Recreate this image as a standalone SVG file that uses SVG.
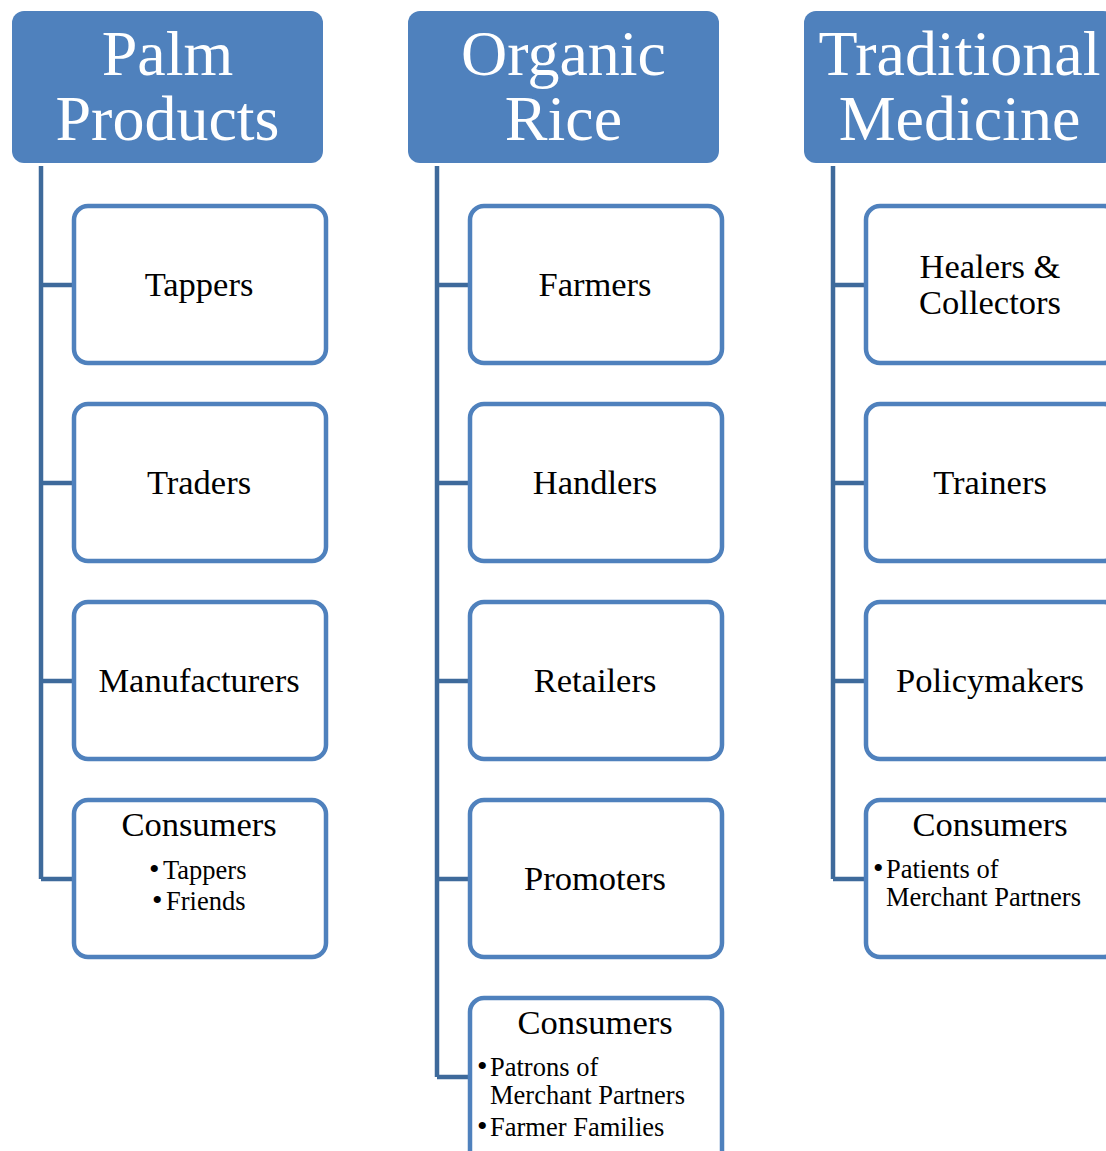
<svg xmlns="http://www.w3.org/2000/svg" width="1106" height="1151" viewBox="0 0 1106 1151">
<style>
.hdr{fill:#4F81BD}
.hdrt{font-family:"Liberation Serif","Times New Roman",serif;font-size:64px;fill:#fff;text-anchor:middle}
.box{fill:#fff;stroke:#4F81BD;stroke-width:4.5}
.t{font-family:"Liberation Serif","Times New Roman",serif;font-size:34.5px;fill:#000;text-anchor:middle}
.s{font-family:"Liberation Serif","Times New Roman",serif;font-size:26.5px;fill:#000}
.b{font-size:30px}
.c{fill:none;stroke:#3E6A9B;stroke-width:4.5}
</style>
<g id="connectors">
<path class="c" d="M41,166 V879 M41,285 H74 M41,483 H74 M41,681 H74 M41,879 H74"/>
<path class="c" d="M437,166 V1077 M437,285 H470 M437,483 H470 M437,681 H470 M437,879 H470 M437,1077 H470"/>
<path class="c" d="M833,166 V879 M833,285 H866 M833,483 H866 M833,681 H866 M833,879 H866"/>
</g>
<g id="h1"><rect class="hdr" x="12" y="11" width="311" height="152" rx="12"/><text class="hdrt" x="167.5" y="75">Palm</text><text class="hdrt" x="167.5" y="140">Products</text></g>
<g id="h2"><rect class="hdr" x="408" y="11" width="311" height="152" rx="12"/><text class="hdrt" x="563.5" y="75">Organic</text><text class="hdrt" x="563.5" y="140">Rice</text></g>
<g id="h3"><rect class="hdr" x="804" y="11" width="311" height="152" rx="12"/><text class="hdrt" x="959.5" y="75">Traditional</text><text class="hdrt" x="959.5" y="140">Medicine</text></g>

<g id="tappers"><rect class="box" x="74" y="206" width="252" height="157" rx="14"/><text class="t" x="199" y="296">Tappers</text></g>
<g id="traders"><rect class="box" x="74" y="404" width="252" height="157" rx="14"/><text class="t" x="199" y="494">Traders</text></g>
<g id="manufacturers"><rect class="box" x="74" y="602" width="252" height="157" rx="14"/><text class="t" x="199" y="692">Manufacturers</text></g>
<g id="consumers1"><rect class="box" x="74" y="800" width="252" height="157" rx="14"/><text class="t" x="199" y="836">Consumers</text><text class="s" x="149" y="879"><tspan class="b">•</tspan><tspan x="163">Tappers</tspan></text><text class="s" x="152" y="910"><tspan class="b">•</tspan><tspan x="166">Friends</tspan></text></g>

<g id="farmers"><rect class="box" x="470" y="206" width="252" height="157" rx="14"/><text class="t" x="595" y="296">Farmers</text></g>
<g id="handlers"><rect class="box" x="470" y="404" width="252" height="157" rx="14"/><text class="t" x="595" y="494">Handlers</text></g>
<g id="retailers"><rect class="box" x="470" y="602" width="252" height="157" rx="14"/><text class="t" x="595" y="692">Retailers</text></g>
<g id="promoters"><rect class="box" x="470" y="800" width="252" height="157" rx="14"/><text class="t" x="595" y="890">Promoters</text></g>
<g id="consumers2"><rect class="box" x="470" y="998" width="252" height="180" rx="14"/><text class="t" x="595" y="1034">Consumers</text><text class="s" x="477" y="1076"><tspan class="b">•</tspan><tspan x="490">Patrons of</tspan></text><text class="s" x="490" y="1104">Merchant Partners</text><text class="s" x="477" y="1136"><tspan class="b">•</tspan><tspan x="490">Farmer Families</tspan></text></g>

<g id="healers"><rect class="box" x="866" y="206" width="252" height="157" rx="14"/><text class="t" x="990" y="278">Healers &amp;</text><text class="t" x="990" y="314">Collectors</text></g>
<g id="trainers"><rect class="box" x="866" y="404" width="252" height="157" rx="14"/><text class="t" x="990" y="494">Trainers</text></g>
<g id="policymakers"><rect class="box" x="866" y="602" width="252" height="157" rx="14"/><text class="t" x="990" y="692">Policymakers</text></g>
<g id="consumers3"><rect class="box" x="866" y="800" width="252" height="157" rx="14"/><text class="t" x="990" y="836">Consumers</text><text class="s" x="873" y="878"><tspan class="b">•</tspan><tspan x="886">Patients of</tspan></text><text class="s" x="886" y="906">Merchant Partners</text></g>
</svg>
